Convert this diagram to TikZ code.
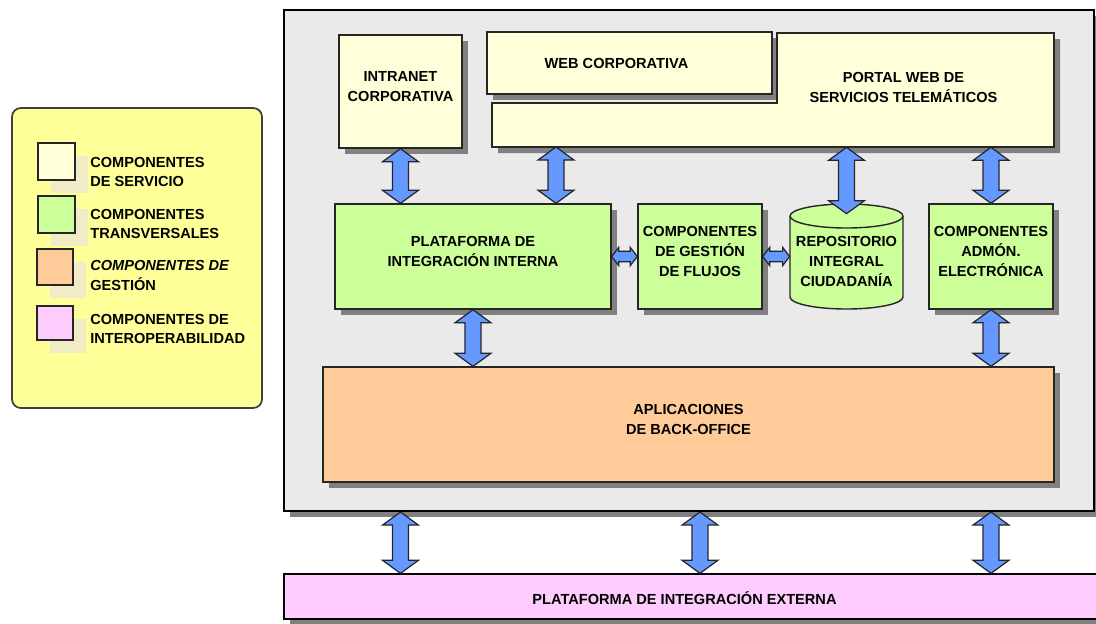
\documentclass[tikz,border=0pt]{standalone}
\usepackage{fontspec}
\setsansfont{Liberation Sans}
\usetikzlibrary{calc,fit,shadows}

\definecolor{svcfill}{HTML}{FFFFDA}
\definecolor{trnfill}{HTML}{CCFF99}
\definecolor{gesfill}{HTML}{FFCC99}
\definecolor{intfill}{HTML}{FFCCFF}
\definecolor{legfill}{HTML}{FFFF99}
\definecolor{frmfill}{HTML}{EAEAEA}
\definecolor{arrfill}{HTML}{6699FF}
\definecolor{legshadow}{HTML}{EFECC6}

\newcommand\boxfont{\fontsize{8.3}{11.3}\selectfont\sffamily\bfseries}

\tikzset{
	box/.style={draw=black!85, line width=0.8pt, inner sep=0pt, align=center, font=\boxfont,
		drop shadow={shadow xshift=0.12cm, shadow yshift=-0.12cm, fill=black!50, opacity=1}},
	legbox/.style={draw=black!85, line width=0.8pt, inner sep=0pt,
		drop shadow={shadow xshift=0.26cm, shadow yshift=-0.26cm, fill=legshadow, opacity=1}},
	legtext/.style={anchor=west, align=left, inner sep=0pt, font=\boxfont},
	biarrow/.style={draw=black!85, line width=0.7pt, fill=arrfill, line join=miter},
}

% vertical double arrow, top point to bottom point
\def\vbiarrow(#1)(#2){\draw[biarrow] let \p1=(#1), \p2=(#2) in (\x1,\y1) -- (\x1+10.2pt,\y1-7.4pt) -- (\x1+4.5pt,\y1-7.4pt) -- (\x1+4.5pt,\y2+7.4pt) -- (\x1+10.2pt,\y2+7.4pt) -- (\x1,\y2) -- (\x1-10.2pt,\y2+7.4pt) -- (\x1-4.5pt,\y2+7.4pt) -- (\x1-4.5pt,\y1-7.4pt) -- (\x1-10.2pt,\y1-7.4pt) -- cycle;}
% horizontal double arrow, left point to right point
\def\hbiarrow(#1)(#2){\draw[biarrow] let \p1=(#1), \p2=(#2) in (\x1,\y1) -- (\x1+4pt,\y1+5.2pt) -- (\x1+4pt,\y1+3pt) -- (\x2-4pt,\y1+3pt) -- (\x2-4pt,\y1+5.2pt) -- (\x2,\y1) -- (\x2-4pt,\y1-5.2pt) -- (\x2-4pt,\y1-3pt) -- (\x1+4pt,\y1-3pt) -- (\x1+4pt,\y1-5.2pt) -- cycle;}

\begin{document}
\begin{tikzpicture}[x=0.02cm, y=-0.02cm]
	%%%%% START %%%%%
	\useasboundingbox (0, 0) rectangle (1096, 623);
	
	% legend
	\draw[fill=legfill, draw=black!75, line width=1pt, rounded corners=5pt] (12, 108) rectangle (262, 408);
	
	\node[legbox, fill=svcfill, fit={(38, 143) (75, 180)}] (lsvc) {};
	\node[legtext] (tsvc) at (90, 172) {COMPONENTES\\ DE SERVICIO};
	
	\node[legbox, fill=trnfill, fit={(38, 196) (75, 233)}] (ltrn) {};
	\node[legtext] (ttrn) at (90, 224) {COMPONENTES\\TRANSVERSALES};
	
	\node[legbox, fill=gesfill, fit={(37, 249) (73, 285)}] (lges) {};
	\node[legtext] (tges) at (90, 275.5) {\itshape COMPONENTES DE\\GESTIÓN};
	
	\node[legbox, fill=intfill, fit={(37, 306) (73, 340)}] (lint) {};
	\node[legtext] (tint) at (90, 329) {COMPONENTES DE\\INTEROPERABILIDAD};
	
	% frame
	\node[box, draw=black, line width=1.2pt, fill=frmfill, fit={(284, 10) (1094, 511)}] (frame) {};
	
	% service components
	\node[box, fill=svcfill, fit={(339, 35) (462, 148)}] (intra) {INTRANET\\CORPORATIVA};
	\node[box, fill=svcfill, fit={(487, 32) (772, 94)}, label={[font=\boxfont, xshift=-0.26cm]center:WEB CORPORATIVA}] (web) {};
	
	\draw[box, fill=svcfill] (777, 33) -- (1054, 33) -- (1054, 147) -- (492, 147) -- (492, 103) -- (777, 103) -- cycle;
	\node[inner sep=0pt, align=center, font=\boxfont, fit={(777, 38) (1030, 147)}] (portal) {PORTAL WEB DE\\SERVICIOS TELEMÁTICOS};
	
	% transversal components
	\node[box, fill=trnfill, fit={(335, 204) (611, 309)}] (pii) {PLATAFORMA DE\\INTEGRACIÓN INTERNA};
	\node[box, fill=trnfill, fit={(638, 204) (762, 309)}] (flu) {COMPONENTES\\DE GESTIÓN\\DE FLUJOS};
	
	\draw[draw=black!85, line width=0.8pt, fill=trnfill] (790, 216) -- (790, 297) arc (180:0:56.5 and 12) -- (903, 216) arc (0:-180:56.5 and 12) -- cycle;
	\draw[draw=black!85, line width=0.8pt] (790, 216) arc (180:0:56.5 and 12);
	\node[inner sep=0pt, align=center, font=\boxfont, fit={(790, 204) (903, 309)}, yshift=-0.2cm] (rep) {REPOSITORIO\\INTEGRAL\\CIUDADANÍA};
	
	\node[box, fill=trnfill, fit={(929, 204) (1053, 309)}] (adm) {COMPONENTES\\ADMÓN.\\ELECTRÓNICA};
	
	% management and interoperability
	\node[box, fill=gesfill, fit={(323, 367) (1054, 482)}] (back) {APLICACIONES\\DE BACK-OFFICE};
	\node[box, draw=black, fill=intfill, fit={(284, 574) (1099, 619)}, drop shadow={shadow xshift=0.12cm, shadow yshift=-0.08cm, fill=black!50, opacity=1}, label={[font=\boxfont, xshift=-0.14cm, yshift=-0.04cm]center:PLATAFORMA DE INTEGRACIÓN EXTERNA}] (pie) {};
	
	% arrows
	\coordinate (wc) at (556, 147);
	\vbiarrow(intra.south)(intra.south |- pii.north)
	\vbiarrow(wc)(wc |- pii.north)
	\vbiarrow(portal.south -| rep.north)(rep.north)
	\vbiarrow(portal.south -| adm.north)(adm.north)
	
	\hbiarrow(pii.east)(flu.west)
	\hbiarrow(flu.east)(rep.west)
	
	\vbiarrow(pii.south)(pii.south |- back.north)
	\vbiarrow(adm.south)(adm.south |- back.north)
	
	\vbiarrow(frame.south -| intra.south)(pie.north -| intra.south)
	\vbiarrow(frame.south -| flu.south)(pie.north -| flu.south)
	\vbiarrow(frame.south -| adm.south)(pie.north -| adm.south)
	
	%%%%% END %%%%%
\end{tikzpicture}
\end{document}
